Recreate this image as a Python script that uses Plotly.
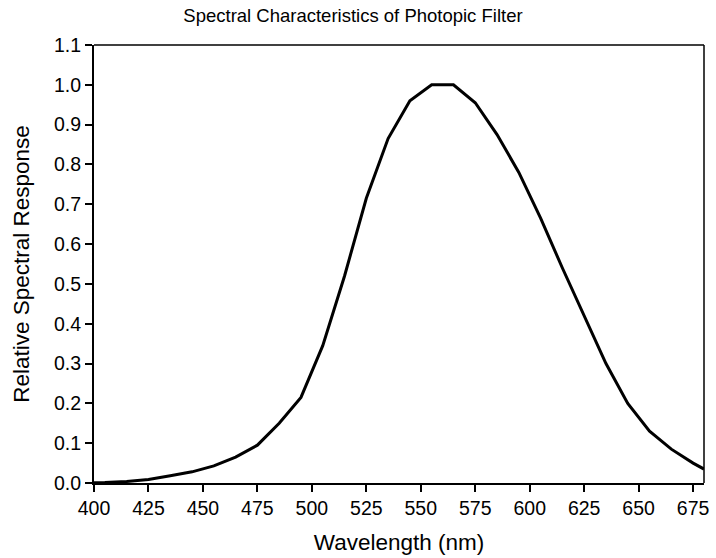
import plotly.graph_objects as go

wavelength = [400, 405, 415, 425, 435, 445, 455, 465, 475, 485, 495, 505, 515, 525,
              535, 545, 555, 565, 575, 585, 595, 605, 615, 625, 635, 645, 655, 665, 675, 680]
response = [0.0005, 0.001, 0.004, 0.009, 0.018, 0.028, 0.043, 0.065, 0.095, 0.15, 0.215,
            0.345, 0.52, 0.715, 0.865, 0.96, 1.0, 1.0, 0.955, 0.875, 0.78, 0.665, 0.54,
            0.42, 0.30, 0.20, 0.13, 0.085, 0.05, 0.035]

x_ticks = list(range(400, 680, 25))
y_ticks = [round(i * 0.1, 1) for i in range(12)]

font_family = "Liberation Sans, Arial, sans-serif"

fig = go.Figure()
fig.add_trace(go.Scatter(x=wavelength, y=response, mode="lines",
                         line=dict(color="black", width=3), showlegend=False))

fig.update_layout(
    width=716, height=558,
    margin=dict(l=94, r=7, t=45, b=72),
    paper_bgcolor="white", plot_bgcolor="white",
    font=dict(family=font_family, color="black"),
    title=dict(text="Spectral Characteristics of Photopic Filter",
               x=0.493, xanchor="center", y=0.972, yanchor="middle",
               font=dict(size=18.5, family=font_family, color="black")),
    xaxis=dict(range=[400, 680], tickvals=x_ticks, ticktext=[str(v) for v in x_ticks],
               showgrid=False, zeroline=False, showline=True, linecolor="black", linewidth=2,
               ticks="outside", ticklen=7, tickwidth=2, tickcolor="black",
               tickfont=dict(size=19.5), title=dict(text="Wavelength (nm)", font=dict(size=22.5), standoff=16)),
    yaxis=dict(range=[0, 1.1], tickvals=y_ticks, ticktext=[f"{v:.1f}" for v in y_ticks],
               showgrid=False, zeroline=False, showline=True, linecolor="black", linewidth=2,
               ticks="outside", ticklen=7, tickwidth=2, tickcolor="black",
               tickfont=dict(size=19.5), title=dict(text="Relative Spectral Response", font=dict(size=22.5), standoff=18)),
)

fig.add_shape(type="line", xref="paper", yref="paper", x0=0, x1=1, y0=1, y1=1,
              line=dict(color="black", width=1.5))
fig.add_shape(type="line", xref="paper", yref="paper", x0=1, x1=1, y0=0, y1=1,
              line=dict(color="black", width=1.5))

fig.write_html("out.html", config={"displayModeBar": False},
               post_script="document.body.style.margin='0';")
